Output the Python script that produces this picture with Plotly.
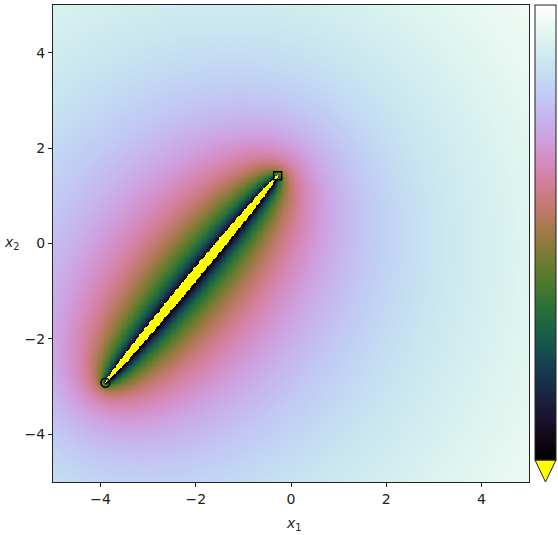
import numpy as np
import plotly.graph_objects as go

# ---- data ----
start_point = [-3.9, -2.92]   # circle marker (x1, x2)
end_point = [-0.28, 1.42]     # square marker (x1, x2)
x_range = [-5, 5]
y_range = [-5, 5]
tick_vals = [-4, -2, 0, 2, 4]
tick_text = ["\u22124", "\u22122", "0", "2", "4"]
log_vmin = -2.45   # below this: "under" colour (yellow)
log_vmax = 1.22
under_color = "#ffff00"

# ---- field (distance excess w.r.t. the segment joining the two markers) ----
n = 400
xs = np.linspace(x_range[0], x_range[1], n)
ys = np.linspace(y_range[0], y_range[1], n)
X, Y = np.meshgrid(xs, ys)
L = np.hypot(end_point[0] - start_point[0], end_point[1] - start_point[1])
d1 = np.hypot(X - start_point[0], Y - start_point[1])
d2 = np.hypot(X - end_point[0], Y - end_point[1])
E = np.log10(np.maximum(d1 + d2 - L, 1e-9))
Z = np.clip(E, log_vmin, log_vmax).round(3)
under = np.where(E < log_vmin, 1.0, np.nan)


def cubehelix(t, gamma=1.0, s=0.5, r=-1.5, h=1.0):
    xg = t ** gamma
    a = h * xg * (1 - xg) / 2
    phi = 2 * np.pi * (s / 3 + r * t)
    R = xg + a * (-0.14861 * np.cos(phi) + 1.78277 * np.sin(phi))
    G = xg + a * (-0.29227 * np.cos(phi) - 0.90649 * np.sin(phi))
    B = xg + a * (1.97294 * np.cos(phi))
    return [min(max(v, 0), 1) for v in (R, G, B)]


cscale = []
for t in np.linspace(0, 1, 65):
    r_, g_, b_ = cubehelix(t)
    cscale.append([float(t), f"rgb({int(round(r_*255))},{int(round(g_*255))},{int(round(b_*255))})"])

W, H = 558, 535
ml, mr, mt, mb = 53, 29, 5, 53
pw = W - ml - mr
ph = H - mt - mb

fig = go.Figure()
fig.add_trace(go.Heatmap(
    x=xs, y=ys, z=Z, zmin=log_vmin, zmax=log_vmax, colorscale=cscale,
    zsmooth="best", hoverinfo="skip",
    colorbar=dict(
        x=(535 - ml) / pw, xanchor="left", xpad=0, ypad=0,
        y=1, yanchor="top", lenmode="pixels", len=455,
        thicknessmode="pixels", thickness=21,
        outlinecolor="#222222", outlinewidth=1,
        showticklabels=False, ticks="",
    ),
))
fig.add_trace(go.Heatmap(
    x=xs, y=ys, z=under, colorscale=[[0, under_color], [1, under_color]],
    showscale=False, hoverinfo="skip", zsmooth=False,
))
fig.add_trace(go.Scatter(
    x=[end_point[0]], y=[end_point[1]], mode="markers",
    marker=dict(symbol="square-open", size=8, color="black", line=dict(width=1.5, color="black")),
    showlegend=False, hoverinfo="skip",
))
fig.add_trace(go.Scatter(
    x=[start_point[0]], y=[start_point[1]], mode="markers",
    marker=dict(symbol="circle-open", size=9, color="black", line=dict(width=1.5, color="black")),
    showlegend=False, hoverinfo="skip",
))

axis_common = dict(
    showgrid=False, zeroline=False, ticks="outside", ticklen=4, tickwidth=1,
    tickcolor="#222222", showline=True, linecolor="#222222", linewidth=1,
    mirror=True, tickfont=dict(family="DejaVu Sans", size=14, color="#222222"),
    tickvals=tick_vals, ticktext=tick_text, automargin=False,
)
fig.update_xaxes(range=x_range, **axis_common)
fig.update_yaxes(range=y_range, **axis_common)

# colorbar "extend min" triangle
x0 = (535 - ml) / pw
x1 = (556 - ml) / pw
ytop = (482 - 460) / ph
fig.add_shape(type="path", xref="paper", yref="paper",
              path=f"M {x0},{ytop} L {x1},{ytop} L {(x0+x1)/2},0 Z",
              fillcolor=under_color, line=dict(color="#222222", width=1))

fig.add_annotation(text="<i>x</i><sub>1</sub>", xref="paper", yref="paper",
                   x=(294 - ml) / pw, y=-(524 - 482) / ph, showarrow=False,
                   font=dict(family="DejaVu Sans", size=14, color="#222222"),
                   xanchor="center", yanchor="middle")
fig.add_annotation(text="<i>x</i><sub>2</sub>", xref="paper", yref="paper",
                   x=(12 - ml) / pw, y=(482 - 243) / ph, showarrow=False,
                   font=dict(family="DejaVu Sans", size=14, color="#222222"),
                   xanchor="center", yanchor="middle")

fig.update_layout(
    width=W, height=H, margin=dict(l=ml, r=mr, t=mt, b=mb, autoexpand=False),
    paper_bgcolor="white", plot_bgcolor="white", showlegend=False,
)
fig.write_html("out.html", config={"displayModeBar": False},
               post_script="document.body.style.margin='0px';document.body.style.overflow='hidden';")
